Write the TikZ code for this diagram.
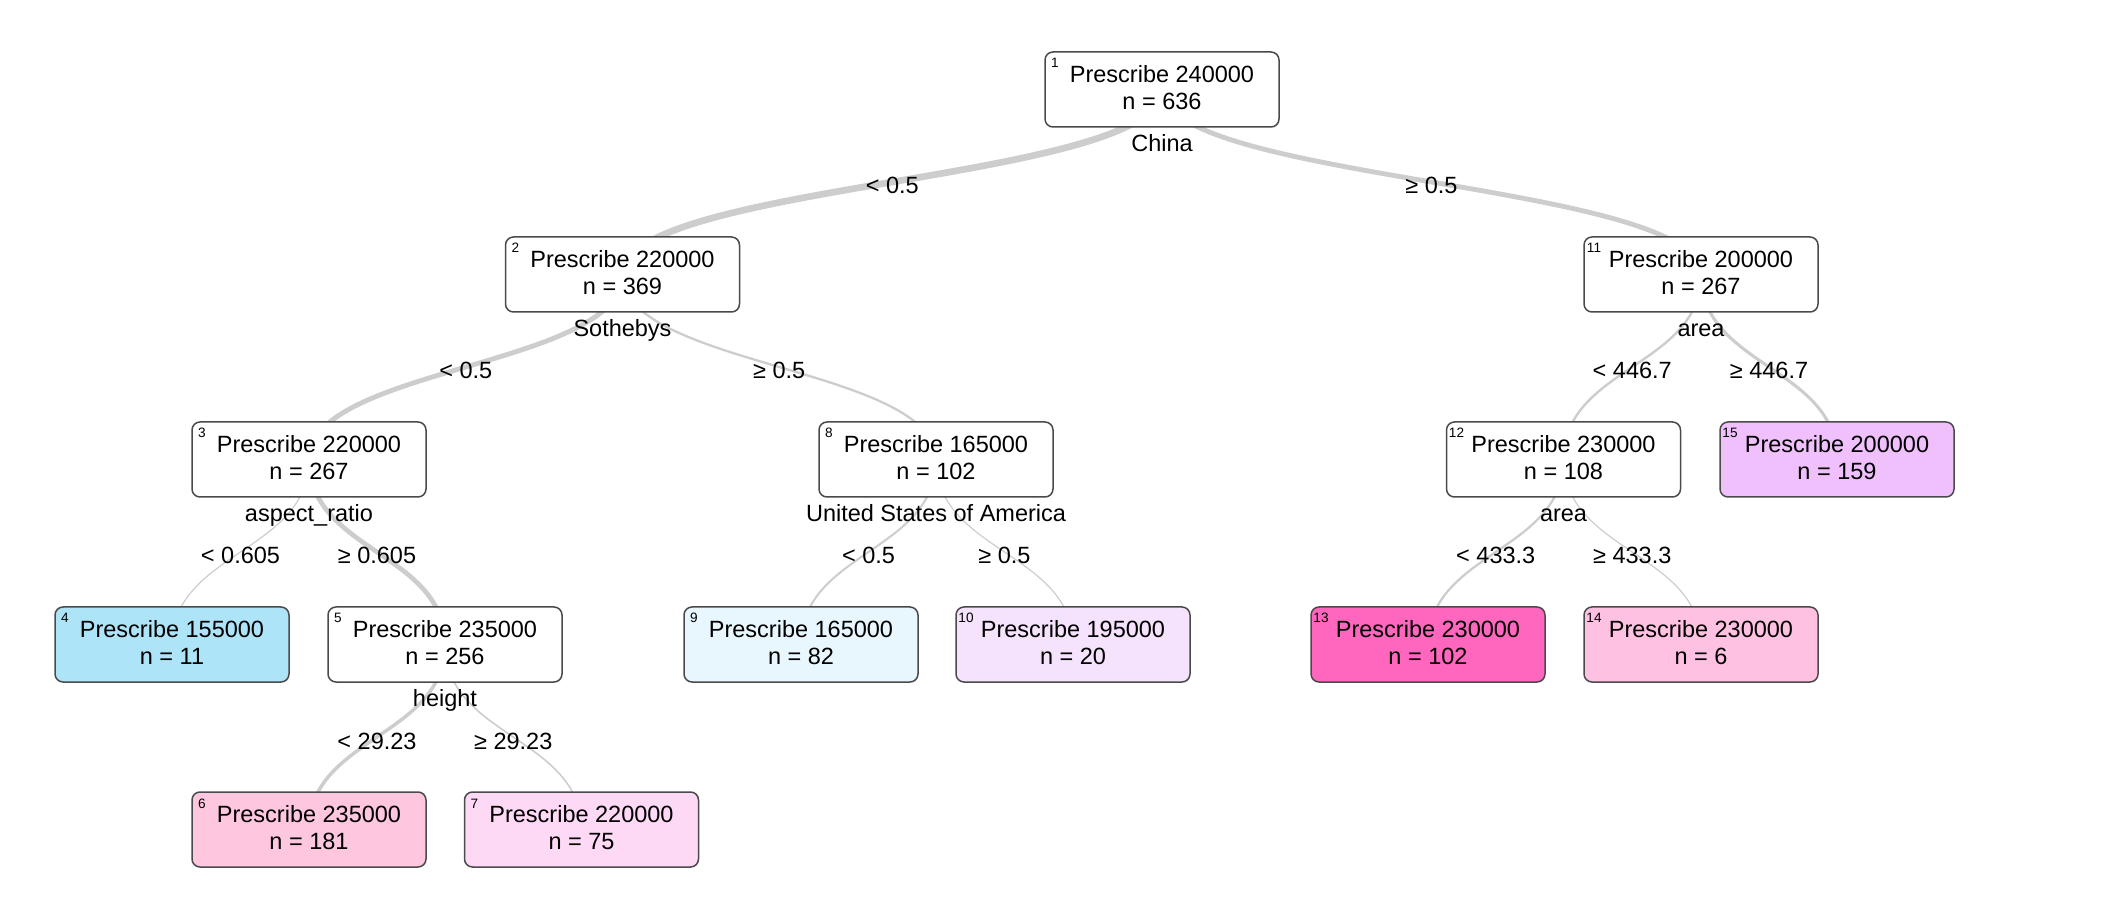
\documentclass[tikz,border=0pt]{standalone}
\usepackage{fontspec}
\setmainfont{Liberation Sans}
\usetikzlibrary{backgrounds,calc}
\definecolor{edgegray}{HTML}{CDCDCD}
\definecolor{boxborder}{HTML}{4A4A4A}
\definecolor{cfour}{HTML}{ADE4F8}
\definecolor{csix}{HTML}{FEC6DF}
\definecolor{cseven}{HTML}{FDD9F5}
\definecolor{cnine}{HTML}{E8F6FD}
\definecolor{cten}{HTML}{F5E2FC}
\definecolor{cthirteen}{HTML}{FF66BE}
\definecolor{cfourteen}{HTML}{FFC1E2}
\definecolor{cfifteen}{HTML}{EFC0FB}
\newcommand\bx[2]{Prescribe #1\\n = #2\rule[-2.5pt]{0pt}{0pt}}
\begin{document}
\begin{tikzpicture}[x=0.5pt,y=-0.5pt,
  box/.style={draw=boxborder, line width=0.75pt, rounded corners=4pt,
    minimum width=117pt, minimum height=37.5pt, inner sep=0pt, outer sep=0pt,
    align=center, font=\fontsize{11.75}{13.5}\selectfont, fill=white},
  idx/.style={font=\fontsize{6.8}{7}\selectfont, anchor=base, inner sep=0pt},
  split/.style={font=\fontsize{11.75}{14}\selectfont, anchor=base, inner sep=0pt},
  elab/.style={font=\fontsize{11.75}{14}\selectfont, anchor=base, inner sep=0pt},
  edge/.style={draw=edgegray}]
\useasboundingbox (0,0) rectangle (2120,908);

% level 0
\node[box] (n1) at (1162,89.5) {\bx{240000}{636}};
% level 1
\node[box] (n2) at (622.5,274.5) {\bx{220000}{369}};
\node[box] (n11) at (1701,274.5) {\bx{200000}{267}};
% level 2
\node[box] (n3) at (309,459.5) {\bx{220000}{267}};
\node[box] (n8) at (936,459.5) {\bx{165000}{102}};
\node[box] (n12) at (1563.5,459.5) {\bx{230000}{108}};
\node[box, fill=cfifteen] (n15) at (1837,459.5) {\bx{200000}{159}};
% level 3
\node[box, fill=cfour] (n4) at (172,644.5) {\bx{155000}{11}};
\node[box] (n5) at (445,644.5) {\bx{235000}{256}};
\node[box, fill=cnine] (n9) at (801,644.5) {\bx{165000}{82}};
\node[box, fill=cten] (n10) at (1073,644.5) {\bx{195000}{20}};
\node[box, fill=cthirteen] (n13) at (1428,644.5) {\bx{230000}{102}};
\node[box, fill=cfourteen] (n14) at (1701,644.5) {\bx{230000}{6}};
% level 4
\node[box, fill=csix] (n6) at (309,829.5) {\bx{235000}{181}};
\node[box, fill=cseven] (n7) at (581.5,829.5) {\bx{220000}{75}};

% index numbers
\foreach \k in {1,2,3,4,5,6,7,8,9,10,11,12,13,14,15}{
  \node[idx] (i\k) at ($(n\k.north west)+(10,16)$) {\k};
}

% split variables
\node[split] (s1) at ($(n1.center)+(0,62)$) {China};
\node[split] (s2) at ($(n2.center)+(0,62)$) {Sothebys};
\node[split] (s11) at ($(n11.center)+(0,62)$) {area};
\node[split] (s3) at ($(n3.center)+(0,62)$) {aspect\_ratio};
\node[split] (s8) at ($(n8.center)+(0,62)$) {United States of America};
\node[split] (s12) at ($(n12.center)+(0,62)$) {area};
\node[split] (s5) at ($(n5.center)+(0,62)$) {height};

% edges
\begin{scope}[on background layer]
\draw[edge, line width=3.35pt] (n1.center) .. controls +(0,92.5) and +(0,-92.5) .. (n2.center);
\draw[edge, line width=2.43pt] (n1.center) .. controls +(0,92.5) and +(0,-92.5) .. (n11.center);
\draw[edge, line width=2.43pt] (n2.center) .. controls +(0,92.5) and +(0,-92.5) .. (n3.center);
\draw[edge, line width=1.15pt] (n2.center) .. controls +(0,92.5) and +(0,-92.5) .. (n8.center);
\draw[edge, line width=1.2pt] (n11.center) .. controls +(0,92.5) and +(0,-92.5) .. (n12.center);
\draw[edge, line width=1.55pt] (n11.center) .. controls +(0,92.5) and +(0,-92.5) .. (n15.center);
\draw[edge, line width=0.6pt] (n3.center) .. controls +(0,92.5) and +(0,-92.5) .. (n4.center);
\draw[edge, line width=2.33pt] (n3.center) .. controls +(0,92.5) and +(0,-92.5) .. (n5.center);
\draw[edge, line width=1.0pt] (n8.center) .. controls +(0,92.5) and +(0,-92.5) .. (n9.center);
\draw[edge, line width=0.6pt] (n8.center) .. controls +(0,92.5) and +(0,-92.5) .. (n10.center);
\draw[edge, line width=1.15pt] (n12.center) .. controls +(0,92.5) and +(0,-92.5) .. (n13.center);
\draw[edge, line width=0.6pt] (n12.center) .. controls +(0,92.5) and +(0,-92.5) .. (n14.center);
\draw[edge, line width=1.75pt] (n5.center) .. controls +(0,92.5) and +(0,-92.5) .. (n6.center);
\draw[edge, line width=0.8pt] (n5.center) .. controls +(0,92.5) and +(0,-92.5) .. (n7.center);
\end{scope}

% edge labels
\node[elab] (e2) at ($(n1.center)!0.5!(n2.center)+(0,12)$) {< 0.5};
\node[elab] (e11) at ($(n1.center)!0.5!(n11.center)+(0,12)$) {≥ 0.5};
\node[elab] (e3) at ($(n2.center)!0.5!(n3.center)+(0,12)$) {< 0.5};
\node[elab] (e8) at ($(n2.center)!0.5!(n8.center)+(0,12)$) {≥ 0.5};
\node[elab] (e12) at ($(n11.center)!0.5!(n12.center)+(0,12)$) {< 446.7};
\node[elab] (e15) at ($(n11.center)!0.5!(n15.center)+(0,12)$) {≥ 446.7};
\node[elab] (e4) at ($(n3.center)!0.5!(n4.center)+(0,12)$) {< 0.605};
\node[elab] (e5) at ($(n3.center)!0.5!(n5.center)+(0,12)$) {≥ 0.605};
\node[elab] (e9) at ($(n8.center)!0.5!(n9.center)+(0,12)$) {< 0.5};
\node[elab] (e10) at ($(n8.center)!0.5!(n10.center)+(0,12)$) {≥ 0.5};
\node[elab] (e13) at ($(n12.center)!0.5!(n13.center)+(0,12)$) {< 433.3};
\node[elab] (e14) at ($(n12.center)!0.5!(n14.center)+(0,12)$) {≥ 433.3};
\node[elab] (e6) at ($(n5.center)!0.5!(n6.center)+(0,12)$) {< 29.23};
\node[elab] (e7) at ($(n5.center)!0.5!(n7.center)+(0,12)$) {≥ 29.23};
\end{tikzpicture}
\end{document}
